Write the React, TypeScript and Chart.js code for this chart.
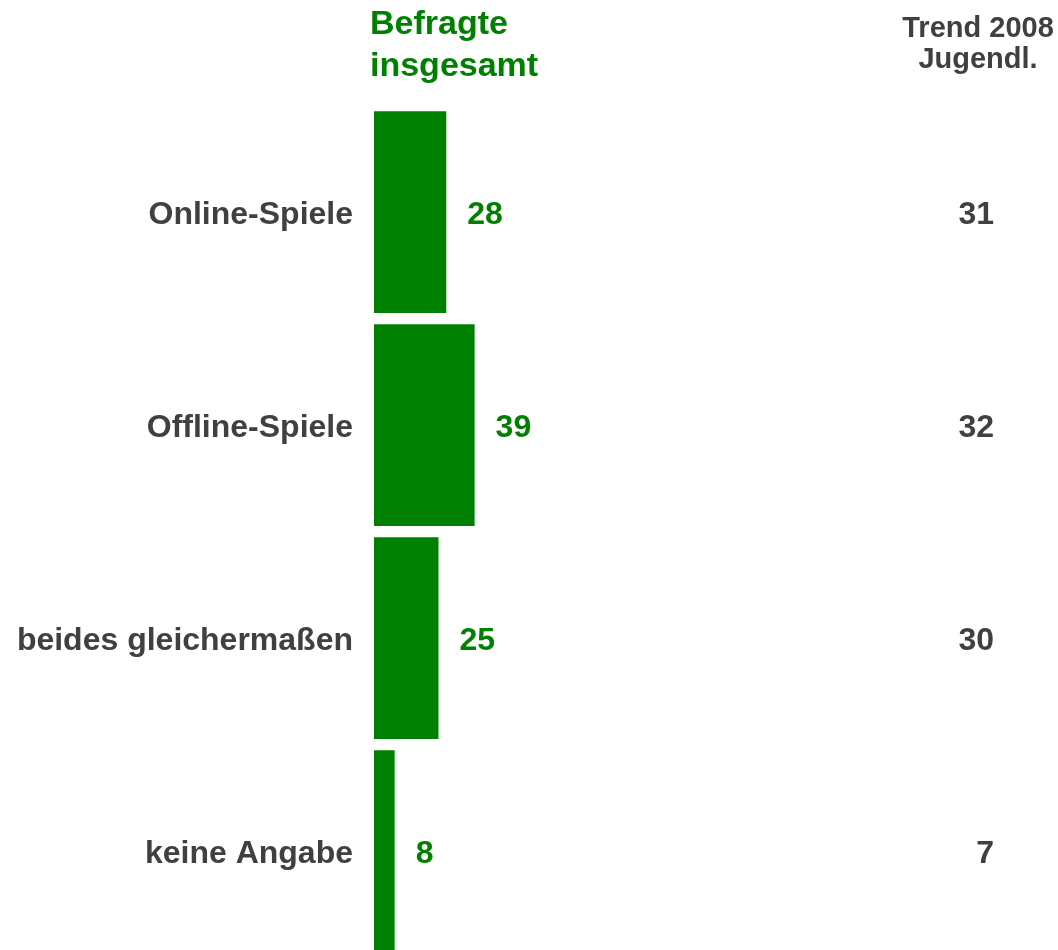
import React, { useEffect, useRef } from "react";
import { Chart, registerables } from "chart.js";

Chart.register(...registerables);

const categories = ["Online-Spiele", "Offline-Spiele", "beides gleichermaßen", "keine Angabe"];
const totalValues = [28, 39, 25, 8];
const trendValues = [31, 32, 30, 7];
const headerTotal = ["Befragte", "insgesamt"];
const headerTrend = ["Trend 2008", "Jugendl."];

const GREEN = "#008000";
const GREY = "#404040";
const FONT = "'Liberation Sans', Arial, Helvetica, sans-serif";

const textPlugin = {
  id: "textPlugin",
  afterDraw(chart: any) {
    const ctx = chart.ctx;
    const xs = chart.scales.x;
    const ys = chart.scales.y;
    ctx.save();
    ctx.textBaseline = "middle";
    ctx.font = `bold 32px ${FONT}`;
    totalValues.forEach((v, i) => {
      const y = ys.getPixelForValue(i) + 3;
      ctx.fillStyle = GREEN;
      ctx.textAlign = "left";
      ctx.fillText(String(v), xs.getPixelForValue(v) + 21, y);
      ctx.fillStyle = GREY;
      ctx.textAlign = "right";
      ctx.fillText(String(trendValues[i]), 994, y);
    });
    ctx.textBaseline = "alphabetic";
    ctx.textAlign = "left";
    ctx.fillStyle = GREEN;
    ctx.font = `bold 34px ${FONT}`;
    ctx.fillText(headerTotal[0], 370, 34);
    ctx.fillText(headerTotal[1], 370, 76);
    ctx.textAlign = "center";
    ctx.fillStyle = GREY;
    ctx.font = `bold 29px ${FONT}`;
    ctx.fillText(headerTrend[0], 978, 37);
    ctx.fillText(headerTrend[1], 978, 68);
    ctx.restore();
  },
};

export default function App() {
  const ref = useRef<HTMLCanvasElement>(null);
  useEffect(() => {
    if (!ref.current) return;
    const chart = new Chart(ref.current, {
      type: "bar",
      data: {
        labels: categories,
        datasets: [
          {
            data: totalValues,
            backgroundColor: GREEN,
            borderWidth: 0,
            barPercentage: 0.947,
            categoryPercentage: 1,
          },
        ],
      },
      options: {
        indexAxis: "y",
        responsive: false,
        animation: false,
        layout: { padding: { top: 105.5, bottom: 1, left: 0, right: 426 } },
        plugins: { legend: { display: false }, tooltip: { enabled: false } },
        scales: {
          x: { display: false, min: 0, max: 100 },
          y: {
            grid: { display: false },
            border: { display: false },
            ticks: {
              color: GREY,
              padding: 13,
              labelOffset: 3,
              font: { family: FONT, size: 32, weight: "bold" },
            },
            afterFit(scale: any) {
              scale.width = 374;
            },
          },
        },
      },
      plugins: [textPlugin],
    } as any);
    return () => chart.destroy();
  }, []);
  return (
    <div style={{ position: "absolute", left: 0, top: 0, width: 1058, height: 950, overflow: "hidden", background: "#fff" }}>
      <canvas ref={ref} width={1058} height={990} style={{ display: "block" }} />
    </div>
  );
}
